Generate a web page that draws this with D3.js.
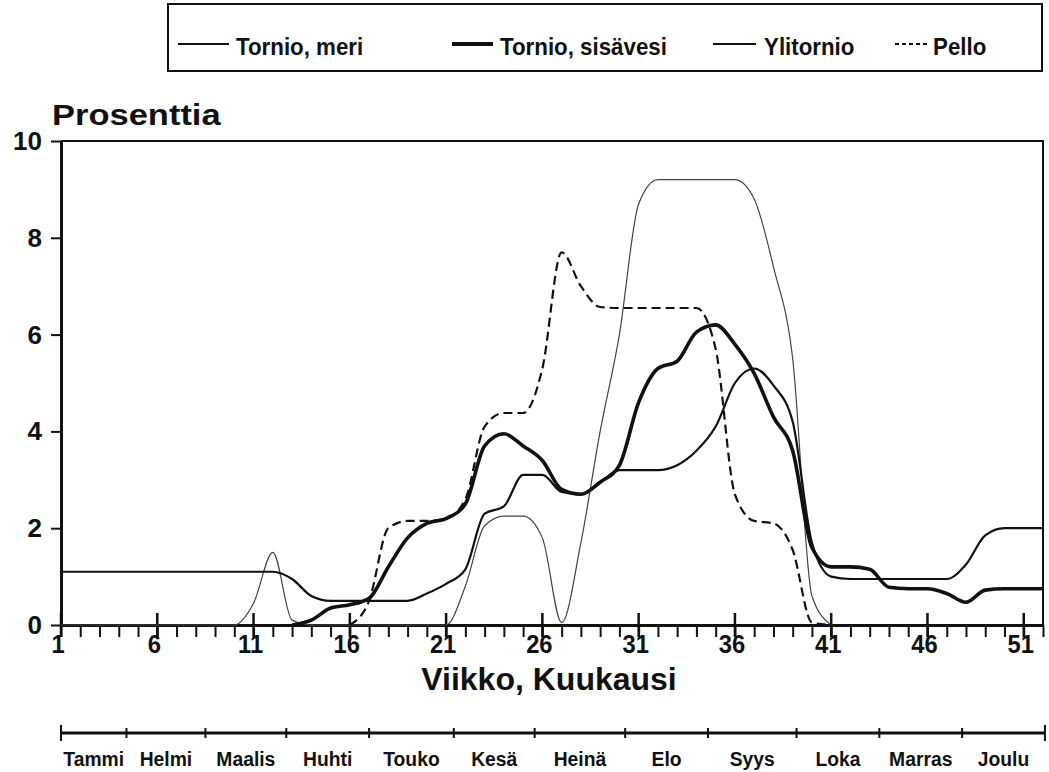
<!DOCTYPE html>
<html lang="fi">
<head>
<meta charset="utf-8">
<title>Prosenttia</title>
<script src="https://cdn.jsdelivr.net/npm/d3@7"></script>
<style>
  body { margin: 0; background: #fff; }
  text { fill: #111; font-weight: bold; font-family: "Liberation Sans", Arial, sans-serif; }
</style>
</head>
<body>
<script>
// weeks 1..52
var weeks = [1,2,3,4,5,6,7,8,9,10,11,12,13,14,15,16,17,18,19,20,21,22,23,24,25,26,
             27,28,29,30,31,32,33,34,35,36,37,38,39,40,41,42,43,44,45,46,47,48,49,50,51,52];

var tornioMeri = [0,0,0,0,0,0,0,0,0,0,0.45,1.5,0.1,0,0,0,0,0,0,0,
                  0,0.8,2.05,2.25,2.25,1.8,0.05,1.7,4.0,6.0,8.7,9.2,9.2,9.2,9.2,9.2,
                  8.8,7.4,5.5,0.6,0,null,null,null,null,null,null,null,null,null,null,null];

var tornioSisavesi = [null,null,null,null,null,null,null,null,null,null,null,null,0,0.1,0.35,0.42,0.55,1.2,1.8,2.1,
                      2.2,2.5,3.7,3.95,3.7,3.4,2.8,2.7,2.95,3.3,4.6,5.3,5.45,6.05,6.2,5.8,
                      5.2,4.3,3.6,1.6,1.2,1.2,1.15,0.78,0.75,0.75,0.65,0.47,0.72,0.75,0.75,0.75];

var ylitornio = [1.1,1.1,1.1,1.1,1.1,1.1,1.1,1.1,1.1,1.1,1.1,1.1,0.95,0.6,0.5,0.5,0.5,0.5,0.5,0.65,
                 0.85,1.15,2.3,2.45,3.1,3.1,2.75,2.7,2.95,3.2,3.2,3.2,3.3,3.6,4.1,5.0,
                 5.3,4.95,4.2,1.7,1.0,0.95,0.95,0.95,0.95,0.95,0.95,1.25,1.85,2.0,2.0,2.0];

var pello = [null,null,null,null,null,null,null,null,null,null,null,null,null,null,null,0,0.5,2.0,2.15,2.15,
             2.2,2.6,4.1,4.38,4.38,5.3,7.7,7.0,6.57,6.55,6.55,6.55,6.55,6.55,5.7,2.7,
             2.15,2.1,1.55,0.05,0,null,null,null,null,null,null,null,null,null,null,null];

var yTicks = [0, 2, 4, 6, 8, 10];
var weekLabels = [1, 6, 11, 16, 21, 26, 31, 36, 41, 46, 51];
var months = ["Tammi","Helmi","Maalis","Huhti","Touko","Kesä","Heinä","Elo","Syys","Loka","Marras","Joulu"];
// month boundaries on the week scale, as drawn on the lower ruler
var monthBounds = [1, 4.4, 8.5, 12.7, 17, 21.4, 25.6, 30.3, 34.6, 39.2, 43.5, 47.8, 52.1];

var series = [
  {name: "Tornio, meri", values: tornioMeri, width: 1.2, color: "#444", dash: null},
  {name: "Ylitornio", values: ylitornio, width: 2.2, color: "#111", dash: null},
  {name: "Tornio, sisävesi", values: tornioSisavesi, width: 3.6, color: "#111", dash: null},
  {name: "Pello", values: pello, width: 2.2, color: "#111", dash: "9,5"}
];

var w = 1049, h = 772;
var svg = d3.select("body").append("svg")
            .attr("width", w)
            .attr("height", h);

// bold text, squeezed or stretched sideways a little like the scanned lettering
function label(g, x, y, str, size, sx, anchor) {
    return g.append("text")
        .attr("transform", "translate(" + x + "," + y + ") scale(" + sx + ",1)")
        .attr("font-size", size)
        .attr("text-anchor", anchor || "start")
        .text(str);
}

var x = d3.scaleLinear().domain([1, 52]).range([61, 1043]);
var y = d3.scaleLinear().domain([0, 10]).range([625, 141]);

// frame top and right
svg.append("path")
   .attr("d", "M" + x(1) + "," + y(10) + "H" + x(52) + "V" + y(0))
   .attr("fill", "none").attr("stroke", "#111").attr("stroke-width", 2);

// y axis
var yAxis = svg.append("g")
   .attr("transform", "translate(" + x(1) + ",0)")
   .call(d3.axisLeft(y).tickValues(yTicks).tickSize(10).tickSizeOuter(0).tickFormat(""));
yAxis.select(".domain").attr("stroke", "#111").attr("stroke-width", 3);
yAxis.selectAll(".tick line").attr("stroke", "#111").attr("stroke-width", 2);
yTicks.forEach(function(t) {
    label(svg, 42, y(t) + 9, t, 26, 1, "end");
});

label(svg, 52, 125, "Prosenttia", 30, 1.15, "start");

// x axis with weekly minor ticks
var xAxis = svg.append("g")
   .attr("transform", "translate(0," + y(0) + ")")
   .call(d3.axisBottom(x).tickValues(weeks).tickSize(12).tickSizeOuter(0).tickFormat(""));
xAxis.select(".domain").attr("stroke", "#111").attr("stroke-width", 3);
xAxis.selectAll(".tick line").attr("stroke", "#111").attr("stroke-width", 2);

var major = svg.append("g").attr("transform", "translate(0," + y(0) + ")");
major.selectAll("line")
   .data(weekLabels)
   .enter()
   .append("line")
   .attr("x1", function(d) { return x(d); })
   .attr("x2", function(d) { return x(d); })
   .attr("y1", -12)
   .attr("y2", 12)
   .attr("stroke", "#111")
   .attr("stroke-width", 2.5);
weekLabels.forEach(function(d) {
    label(major, x(d) - 3, 28, d, 25, 0.95, "middle");
});

label(svg, 549, 690, "Viikko, Kuukausi", 32, 1.0, "middle");

// month ruler
var monthG = svg.append("g").attr("transform", "translate(0,733)");
monthG.append("line")
   .attr("x1", x(monthBounds[0])).attr("x2", x(monthBounds[12]))
   .attr("stroke", "#111").attr("stroke-width", 3);
monthG.selectAll("line.mt")
   .data(monthBounds)
   .enter()
   .append("line")
   .attr("class", "mt")
   .attr("x1", function(d) { return x(d); })
   .attr("x2", function(d) { return x(d); })
   .attr("y1", function(d, i) { return (i == 0 || i == 12) ? -8 : -5; })
   .attr("y2", function(d, i) { return (i == 0 || i == 12) ? 8 : 5; })
   .attr("stroke", "#111")
   .attr("stroke-width", 2);
months.forEach(function(m, i) {
    label(monthG, (x(monthBounds[i]) + x(monthBounds[i + 1])) / 2, 33, m, 21, 0.92, "middle");
});

// lines
var line = d3.line()
   .defined(function(d) { return d.v != null; })
   .x(function(d) { return x(d.w); })
   .y(function(d) { return y(d.v); })
   .curve(d3.curveMonotoneX);

svg.selectAll("path.series")
   .data(series)
   .enter()
   .append("path")
   .attr("class", "series")
   .attr("fill", "none")
   .attr("stroke", function(d) { return d.color; })
   .attr("stroke-width", function(d) { return d.width; })
   .attr("stroke-dasharray", function(d) { return d.dash; })
   .attr("stroke-linejoin", "round")
   .attr("d", function(d) {
       return line(d.values.map(function(v, i) { return {w: weeks[i], v: v}; }));
   });

// legend
var legend = svg.append("g");
legend.append("rect")
   .attr("x", 168).attr("y", 4)
   .attr("width", 874).attr("height", 67)
   .attr("fill", "none").attr("stroke", "#111").attr("stroke-width", 2);

var legendItems = [
  {s: series[0], x1: 178, x2: 229, tx: 236, lw: 2},
  {s: series[2], x1: 452, x2: 493, tx: 500, lw: 4},
  {s: series[1], x1: 713, x2: 756, tx: 764, lw: 2},
  {s: series[3], x1: 895, x2: 927, tx: 933, lw: 2}
];
legend.selectAll("line")
   .data(legendItems)
   .enter()
   .append("line")
   .attr("x1", function(d) { return d.x1; })
   .attr("x2", function(d) { return d.x2; })
   .attr("y1", 44).attr("y2", 44)
   .attr("stroke", "#111")
   .attr("stroke-width", function(d) { return d.lw; })
   .attr("stroke-dasharray", function(d) { return d.s.dash ? "4,3" : null; });
legendItems.forEach(function(d) {
    label(legend, d.tx, 55, d.s.name, 24, 0.93, "start");
});
</script>
</body>
</html>
